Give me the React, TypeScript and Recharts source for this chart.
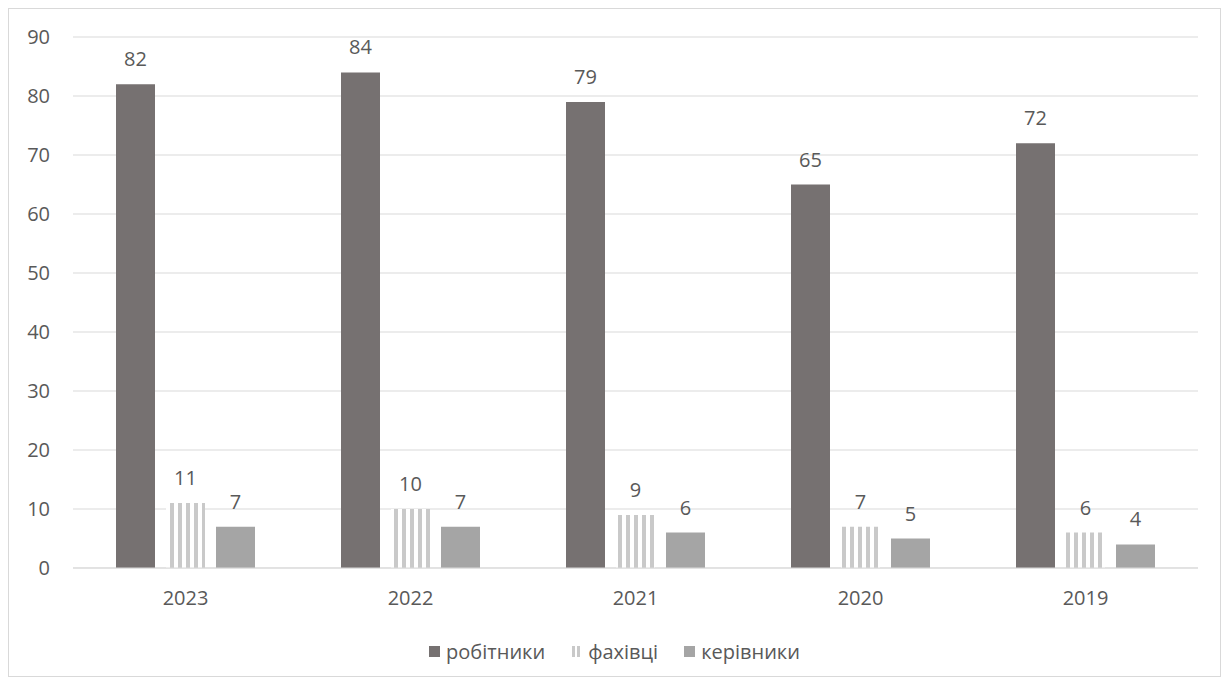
import React from 'react';
import { BarChart, Bar, XAxis, YAxis, CartesianGrid, Legend, LabelList } from 'recharts';

const years = ['2023', '2022', '2021', '2020', '2019'];
const workers = [82, 84, 79, 65, 72];
const specialists = [11, 10, 9, 7, 6];
const managers = [7, 7, 6, 5, 4];
const yTicks = [0, 10, 20, 30, 40, 50, 60, 70, 80, 90];

const data = years.map((y, i) => ({
  year: y,
  w: workers[i],
  s: specialists[i],
  m: managers[i],
}));

const FONT = "'Open Sans', 'Noto Sans', sans-serif";
const FS = 20;
const TEXT = '#595959';
const DARK = '#767171';
const STRIPE = '#c9c9c9';
const LIGHT = '#a5a5a5';

const legendItems = [
  { key: 'w', label: 'робітники', kind: 'solid', color: DARK },
  { key: 's', label: 'фахівці', kind: 'stripe', color: STRIPE },
  { key: 'm', label: 'керівники', kind: 'solid', color: LIGHT },
];

const CustomLegend = () => (
  <div style={{ display: 'flex', justifyContent: 'center', alignItems: 'center', fontFamily: FONT, fontSize: FS, color: TEXT, lineHeight: '27px' }}>
    {legendItems.map((it) => (
      <div key={it.key} style={{ display: 'flex', alignItems: 'center', margin: '0 13px' }}>
        <svg width={11} height={11} style={{ marginRight: 6 }}>
          {it.kind === 'solid' ? (
            <rect x={0} y={0} width={11} height={11} fill={it.color} />
          ) : (
            <g>
              <rect x={1} y={0} width={3} height={11} fill={it.color} />
              <rect x={6} y={0} width={3} height={11} fill={it.color} />
            </g>
          )}
        </svg>
        <span>{it.label}</span>
      </div>
    ))}
  </div>
);

export default function App() {
  return (
    <div style={{ width: 1211, height: 667, border: '1px solid #d9d9d9', background: '#fff' }}>
      <BarChart
        width={1211}
        height={667}
        data={data}
        margin={{ top: 28, right: 22, left: 0, bottom: 51 }}
        barSize={39}
        barGap={11}
      >
        <defs>
          <pattern id="stripes" patternUnits="userSpaceOnUse" width={8} height={8}>
            <rect x={0} y={0} width={8} height={8} fill="#ffffff" />
            <rect x={1} y={0} width={4} height={8} fill={STRIPE} />
          </pattern>
        </defs>
        <CartesianGrid vertical={false} stroke="#d9d9d9" strokeWidth={1} />
        <XAxis
          dataKey="year"
          axisLine={{ stroke: '#d9d9d9' }}
          tickLine={false}
          tick={{ fill: TEXT, fontSize: FS, fontFamily: FONT }}
          tickMargin={17}
          height={30}
        />
        <YAxis
          domain={[0, 90]}
          ticks={yTicks}
          axisLine={false}
          tickLine={false}
          width={64}
          tickMargin={17}
          tick={{ fill: TEXT, fontSize: FS, fontFamily: FONT }}
        />
        <Legend
          content={<CustomLegend />}
          verticalAlign="bottom"
          wrapperStyle={{ top: 629, bottom: 'auto', left: 0, width: 1211 }}
        />
        <Bar dataKey="w" name="робітники" fill={DARK} isAnimationActive={false}>
          <LabelList dataKey="w" position="top" offset={18} fill={TEXT} fontSize={FS} fontFamily={FONT} />
        </Bar>
        <Bar dataKey="s" name="фахівці" fill="url(#stripes)" isAnimationActive={false}>
          <LabelList dataKey="s" position="top" offset={18} fill={TEXT} fontSize={FS} fontFamily={FONT} />
        </Bar>
        <Bar dataKey="m" name="керівники" fill={LIGHT} isAnimationActive={false}>
          <LabelList dataKey="m" position="top" offset={18} fill={TEXT} fontSize={FS} fontFamily={FONT} />
        </Bar>
      </BarChart>
    </div>
  );
}
